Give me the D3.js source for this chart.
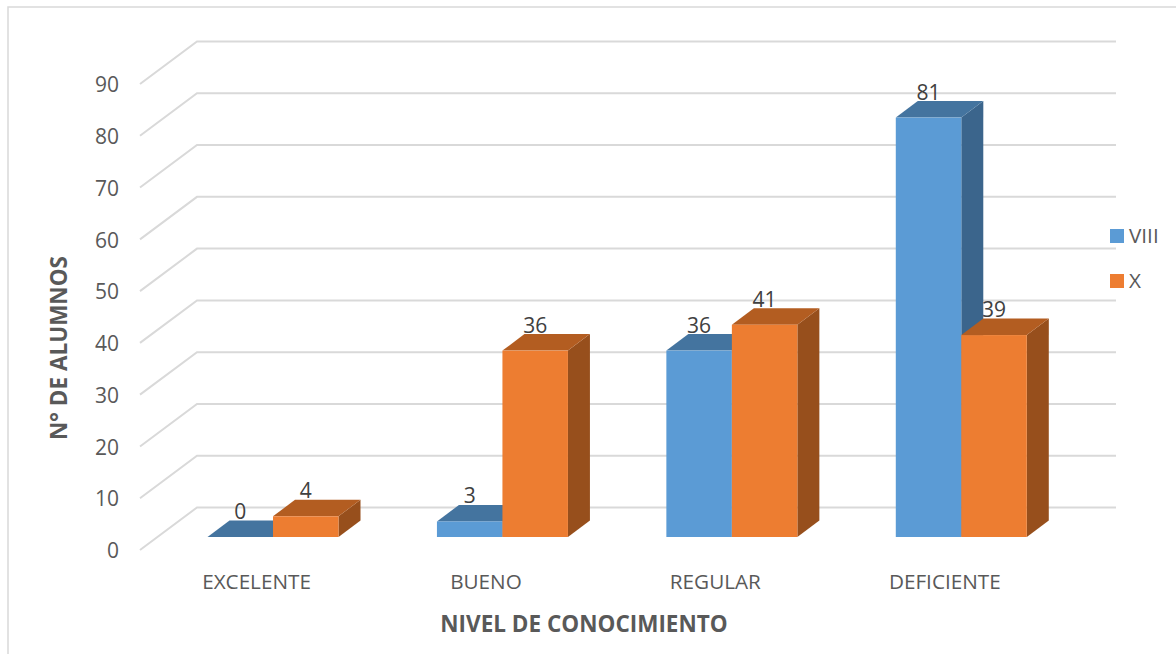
<!DOCTYPE html>
<html>
<head>
<meta charset="utf-8">
<script src="https://cdn.jsdelivr.net/npm/d3@7"></script>
<style>
  html, body { margin: 0; padding: 0; background: #fff; }
  svg { display: block; font-family: "Open Sans", sans-serif; }
  .tick text { fill: #595959; }
</style>
</head>
<body>
<div id="graphicContainer"></div>
<script>
var categories = ["EXCELENTE", "BUENO", "REGULAR", "DEFICIENTE"];
var seriesNames = ["VIII", "X"];
var valuesVIII = [0, 3, 36, 81];
var valuesX = [4, 36, 41, 39];
var yTicks = [0, 10, 20, 30, 40, 50, 60, 70, 80, 90];

var w = 1176, h = 654;

var colors = {
	VIII: { front: "#5b9bd5", side: "#3b658c", top: "#44749f" },
	X: { front: "#ed7d31", side: "#974f1c", top: "#b35d21" }
};

var svg = d3.select("#graphicContainer").append("svg")
	.attr("width", w)
	.attr("height", h);

// chart frame, only the top and left edges are in the picture
svg.append("path")
	.attr("d", "M8,654V7H1176")
	.attr("fill", "none")
	.attr("stroke", "#d9d9d9")
	.attr("stroke-width", 1.5);

var x = d3.scaleBand().domain(categories).range([158.3, 1076]);
var xInner = d3.scaleBand().domain(seriesNames).range([x.bandwidth() / 2 - 65.5, x.bandwidth() / 2 + 65.5]);
var y = d3.scaleLinear().domain([0, 90]).range([550, 84]);

// fake 3d offsets
var wallDx = 57, wallDy = -42.5;
var barLift = -13;
var depthX = 22, depthY = -16.5;

// gridlines, floor corner then back wall
svg.append("g").selectAll("path")
	.data(yTicks)
	.join("path")
	.attr("d", function(d) {
		return d3.line()([[140, y(d)], [140 + wallDx, y(d) + wallDy], [1116, y(d) + wallDy]]);
	})
	.attr("fill", "none")
	.attr("stroke", "#d9d9d9")
	.attr("stroke-width", 2);

var yAxis = d3.axisLeft(y).tickValues(yTicks).tickSize(0).tickPadding(0);
var yG = svg.append("g")
	.attr("transform", "translate(119,1)")
	.call(yAxis);
yG.select(".domain").remove();
yG.selectAll("text").style("font-size", "21px").style("font-family", "'Open Sans', sans-serif");

var xAxis = d3.axisBottom(x).tickSize(0).tickPadding(0);
var xG = svg.append("g")
	.attr("transform", "translate(-16.5,574)")
	.call(xAxis);
xG.select(".domain").remove();
xG.selectAll("text").style("font-size", "20.7px").style("font-family", "'Open Sans', sans-serif");

var rows = [];
categories.forEach(function(c, i) {
	rows.push({ cat: c, series: "VIII", value: valuesVIII[i] });
	rows.push({ cat: c, series: "X", value: valuesX[i] });
});

function barLeft(d) { return x(d.cat) + xInner(d.series); }
function barRight(d) { return barLeft(d) + xInner.bandwidth(); }
function barTop(d) { return y(d.value) + barLift; }
function barBase() { return y(0) + barLift; }

function drawLabels(data) {
	svg.append("g").selectAll("text")
		.data(data)
		.join("text")
		.attr("x", function(d) { return barLeft(d) + xInner.bandwidth() / 2; })
		.attr("y", function(d) { return barTop(d) + depthY - 1.5; })
		.attr("text-anchor", "middle")
		.attr("fill", "#404040")
		.style("font-size", "21px")
		.text(function(d) { return d.value; });
}

function drawBars(data) {
	var g = svg.append("g").selectAll("g")
		.data(data)
		.join("g");

	g.append("path")
		.attr("fill", function(d) { return colors[d.series].side; })
		.attr("d", function(d) {
			return d3.line()([[barRight(d), barTop(d)], [barRight(d) + depthX, barTop(d) + depthY],
				[barRight(d) + depthX, barBase() + depthY], [barRight(d), barBase()]]) + "Z";
		});

	g.append("path")
		.attr("fill", function(d) { return colors[d.series].top; })
		.attr("d", function(d) {
			return d3.line()([[barLeft(d), barTop(d)], [barLeft(d) + depthX, barTop(d) + depthY],
				[barRight(d) + depthX, barTop(d) + depthY], [barRight(d), barTop(d)]]) + "Z";
		});

	g.append("rect")
		.attr("fill", function(d) { return colors[d.series].front; })
		.attr("x", barLeft)
		.attr("y", barTop)
		.attr("width", xInner.bandwidth())
		.attr("height", function(d) { return barBase() - barTop(d); });
}

// the blue side hides part of the 39, so the X labels go in first
var rowsVIII = rows.filter(function(d) { return d.series === "VIII"; });
var rowsX = rows.filter(function(d) { return d.series === "X"; });
drawLabels(rowsX);
drawBars(rowsVIII);
drawBars(rowsX);
drawLabels(rowsVIII);

// legend
var legend = svg.append("g").selectAll("g")
	.data(seriesNames)
	.join("g")
	.attr("transform", function(d, i) { return "translate(1110," + (229 + i * 45) + ")"; });
legend.append("rect")
	.attr("width", 14)
	.attr("height", 14)
	.attr("fill", function(d) { return colors[d].front; });
legend.append("text")
	.attr("x", 19)
	.attr("y", 7)
	.attr("dy", "0.35em")
	.attr("fill", "#595959")
	.style("font-size", "20.7px")
	.text(function(d) { return d; });

// axis titles
svg.append("text")
	.attr("transform", "translate(67,348) rotate(-90)")
	.attr("text-anchor", "middle")
	.attr("fill", "#595959")
	.style("font-size", "22.5px")
	.style("font-weight", "bold")
	.text("N° DE ALUMNOS");

svg.append("text")
	.attr("x", 584)
	.attr("y", 632)
	.attr("text-anchor", "middle")
	.attr("fill", "#595959")
	.style("font-size", "22.5px")
	.style("font-weight", "bold")
	.text("NIVEL DE CONOCIMIENTO");
</script>
</body>
</html>
